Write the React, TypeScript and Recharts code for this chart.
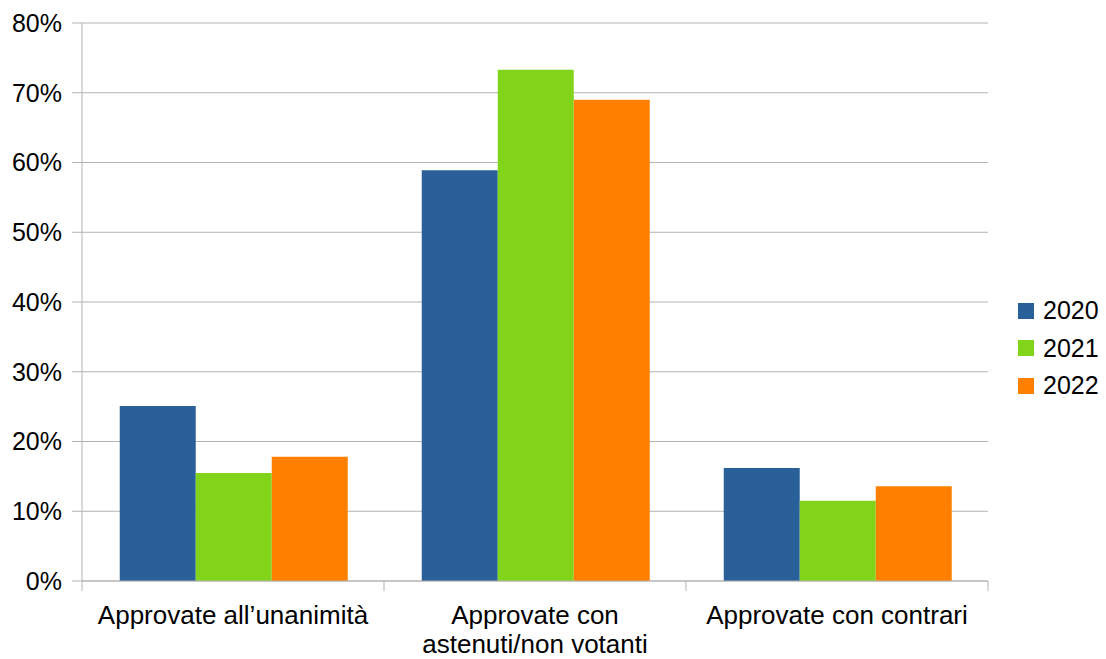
import { BarChart, Bar, XAxis, YAxis, CartesianGrid, Legend } from "recharts";

const FONT = '"Liberation Sans", Arial, sans-serif';
const GRID = "#b3b3b3";

// categories (line breaks as in the original labels)
const CATEGORIES = [
  "Approvate all\u2019unanimità",
  "Approvate con\nastenuti/non votanti",
  "Approvate con contrari",
];

const YEARS = ["2020", "2021", "2022"];
const COLORS = ["#2a6099", "#81d41a", "#ff8000"];

// percent values per year
const VALUES_2020 = [25.1, 58.9, 16.2];
const VALUES_2021 = [15.5, 73.3, 11.5];
const VALUES_2022 = [17.8, 69.0, 13.6];

const Y_TICKS = [0, 10, 20, 30, 40, 50, 60, 70, 80];

const data = CATEGORIES.map((name, i) => ({
  name,
  "2020": VALUES_2020[i],
  "2021": VALUES_2021[i],
  "2022": VALUES_2022[i],
}));

function CategoryTick(props: any) {
  const { x, y, payload, index, visibleTicksCount } = props;
  const half = payload?.offset || 151;
  const axisY = y - 10;
  const lines = String(payload.value).split("\n");
  return (
    <g>
      <line x1={x - half} x2={x - half} y1={axisY} y2={axisY + 10} stroke={GRID} />
      {index === visibleTicksCount - 1 && (
        <line x1={x + half} x2={x + half} y1={axisY} y2={axisY + 10} stroke={GRID} />
      )}
      <text
        x={x}
        y={axisY + 43}
        textAnchor="middle"
        fontSize={26}
        fill="#000"
        fontFamily={FONT}
      >
        {lines.map((l, i) => (
          <tspan key={i} x={x} dy={i === 0 ? 0 : 29}>
            {l}
          </tspan>
        ))}
      </text>
    </g>
  );
}

function YearLegend() {
  return (
    <div style={{ fontFamily: FONT }}>
      {YEARS.map((year, i) => (
        <div
          key={year}
          style={{ display: "flex", alignItems: "center", height: 37.5 }}
        >
          <span
            style={{
              display: "inline-block",
              width: 16,
              height: 16,
              background: COLORS[i],
            }}
          />
          <span style={{ marginLeft: 9, fontSize: 25, color: "#000", lineHeight: "25px" }}>
            {year}
          </span>
        </div>
      ))}
    </div>
  );
}

export default function App() {
  return (
    <div style={{ position: "absolute", left: 0, top: 0, fontFamily: FONT, background: "#fff" }}>
      <BarChart
        width={1106}
        height={659}
        data={data}
        margin={{ top: 23, right: 118, bottom: 0, left: 0 }}
        barCategoryGap="12.5%"
        barGap={0}
      >
        <CartesianGrid horizontal vertical={false} stroke={GRID} />
        <XAxis
          dataKey="name"
          height={78}
          tickSize={10}
          tickMargin={0}
          tickLine={false}
          axisLine={{ stroke: GRID }}
          interval={0}
          tick={<CategoryTick />}
        />
        <YAxis
          width={82}
          domain={[0, 80]}
          ticks={Y_TICKS}
          interval={0}
          tickFormatter={(v) => `${v}%`}
          tickSize={10}
          tickMargin={10}
          tickLine={{ stroke: GRID }}
          axisLine={{ stroke: GRID }}
          tick={{ fontSize: 25, fill: "#000", fontFamily: FONT }}
        />
        <YAxis
          yAxisId="border"
          orientation="right"
          width={0}
          tick={false}
          tickLine={false}
          axisLine={{ stroke: GRID }}
        />
        <Legend
          layout="vertical"
          align="center"
          verticalAlign="middle"
          content={<YearLegend />}
          wrapperStyle={{ left: 1018, top: 292, width: 88 }}
        />
        {YEARS.map((year, i) => (
          <Bar
            key={year}
            dataKey={year}
            fill={COLORS[i]}
            isAnimationActive={false}
          />
        ))}
      </BarChart>
    </div>
  );
}
